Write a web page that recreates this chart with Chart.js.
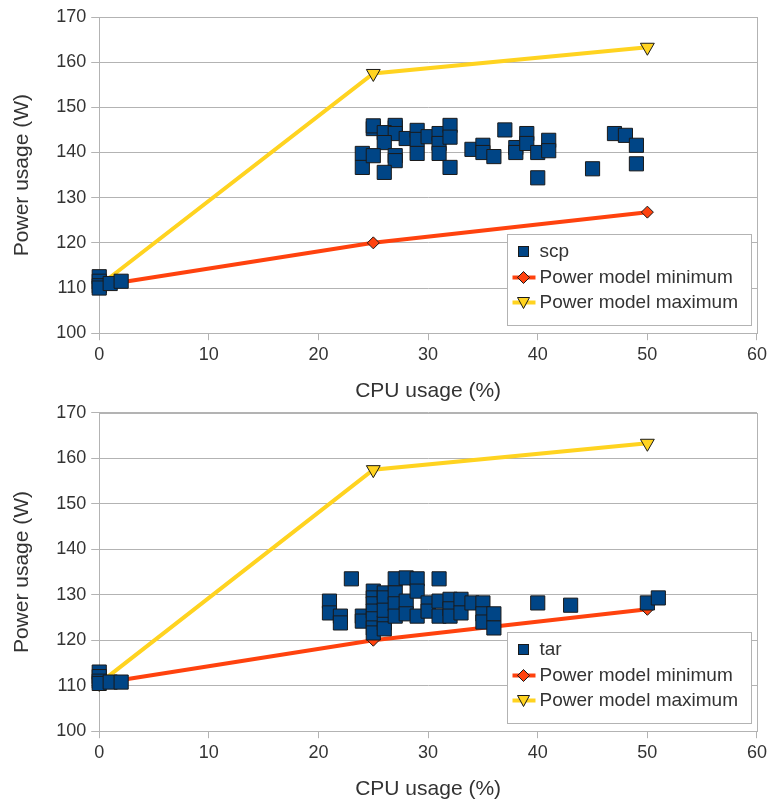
<!DOCTYPE html>
<html>
<head>
<meta charset="utf-8">
<script src="https://cdn.jsdelivr.net/npm/chart.js@4.4.1/dist/chart.umd.min.js"></script>
<style>
  body { margin: 0; background: #fff; }
  canvas { position: absolute; left: 0; }
</style>
</head>
<body>
<canvas id="topChart" width="771" height="404" style="top:0"></canvas>
<canvas id="bottomChart" width="771" height="405" style="top:397px"></canvas>
<script>
/* Measured series: CPU usage (%) vs power usage (W) */
const scpCpu   = [0, 0, 0, 0, 1, 2,
  25, 25, 27, 27, 26, 27, 26, 28, 29, 29, 30, 31, 31, 32, 32, 24, 24, 25, 27, 27, 26, 29, 31, 32,
  34, 35, 35, 36, 37, 38, 38, 39, 39, 40, 41, 41, 40, 45, 47, 48, 49, 49];
const scpPower = [112.5, 111.5, 110.5, 110, 111, 111.5,
  145.3, 145.9, 145.5, 146, 144.4, 144.2, 142.2, 143.1, 144.9, 142.9, 143.5, 144.2, 142, 146, 143.4, 139.8, 136.7, 139.3, 139.3, 138.2, 135.6, 139.8, 139.8, 136.7,
  140.7, 141.6, 140, 139.1, 145, 141.1, 140, 144.2, 142, 140, 142.7, 140.4, 134.4, 136.4, 144.2, 143.8, 141.6, 137.5];

const tarCpu   = [0, 0, 0, 0, 1, 2,
  23, 21, 21, 22, 22, 24, 24, 25, 25, 25, 25, 25, 25, 25, 26, 26, 26, 26, 26,
  27, 27, 27, 27, 28, 28, 28, 29, 29, 29, 30, 30, 31, 31, 31, 32, 32, 32, 33, 33,
  34, 35, 35, 35, 36, 36, 40, 43, 50, 51];
const tarPower = [113, 112, 111, 110.5, 110.8, 110.8,
  133.5, 128.6, 126, 125.3, 123.8, 125.3, 124.2, 130.8, 129.3, 128, 126.4, 124.7, 122.7, 121.6, 130.4, 129.3, 123.8, 122.5, 126.6,
  133.5, 130.4, 128, 125.3, 133.7, 128.6, 125.8, 133.5, 130.8, 125.3, 128.2, 126.4, 133.5, 128.6, 125.3, 129, 126.9, 125.3, 129, 126,
  128.2, 128.2, 125.8, 124, 125.8, 122.7, 128.2, 127.7, 128.2, 129.3];

/* Power model lines */
const modelCpu = [0, 25, 50];
const modelMin = [110.5, 120, 126.8];
const modelMax = [110.5, 157.5, 163.3];

const legendLabels = ['Power model minimum', 'Power model maximum'];

const BLUE = '#004586', RED = '#ff420e', YELLOW = '#ffd320', EDGE = '#1a1a1a';
const GRID = '#b3b3b3', TEXT = '#333333';
const FONT = '"Liberation Sans", Arial, sans-serif';

function toPoints(xs, ys) {
  return xs.map((x, i) => ({ x: x, y: ys[i] }));
}

/* Grey frame round the plot area, drawn under the data */
const framePlugin = {
  id: 'frame',
  beforeDatasetsDraw(chart) {
    const a = chart.chartArea, ctx = chart.ctx;
    ctx.save();
    ctx.strokeStyle = GRID;
    ctx.lineWidth = 1;
    ctx.strokeRect(Math.round(a.left) + 0.5, Math.round(a.top) + 0.5,
      Math.round(a.right - a.left), Math.round(a.bottom - a.top));
    ctx.restore();
  }
};

/* Boxed legend in the lower right corner of the plot */
const boxLegendPlugin = {
  id: 'boxLegend',
  afterDraw(chart, args, opts) {
    const a = chart.chartArea, ctx = chart.ctx;
    const w = 244, h = 91;
    const left = Math.round(a.right - 6 - w) + 0.5;
    const top = Math.round(a.bottom - 8 - h) + 0.5;
    ctx.save();
    ctx.fillStyle = '#fff';
    ctx.strokeStyle = GRID;
    ctx.lineWidth = 1;
    ctx.fillRect(left, top, w, h);
    ctx.strokeRect(left, top, w, h);

    ctx.font = '19px ' + FONT;
    ctx.fillStyle = TEXT;
    ctx.textBaseline = 'middle';
    const rows = [top + 17, top + 43, top + 68];
    const mx = left + 16;

    // scatter entry
    ctx.fillStyle = BLUE;
    ctx.strokeStyle = EDGE;
    ctx.fillRect(mx - 5, rows[0] - 5, 10, 10);
    ctx.strokeRect(mx - 5, rows[0] - 5, 10, 10);
    ctx.fillStyle = TEXT;
    ctx.fillText(opts.first, left + 32, rows[0]);

    // minimum line
    ctx.strokeStyle = RED;
    ctx.lineWidth = 4;
    ctx.beginPath(); ctx.moveTo(left + 5, rows[1]); ctx.lineTo(left + 28, rows[1]); ctx.stroke();
    ctx.fillStyle = RED; ctx.strokeStyle = EDGE; ctx.lineWidth = 1;
    ctx.beginPath();
    ctx.moveTo(mx, rows[1] - 6); ctx.lineTo(mx + 6, rows[1]); ctx.lineTo(mx, rows[1] + 6); ctx.lineTo(mx - 6, rows[1]);
    ctx.closePath(); ctx.fill(); ctx.stroke();
    ctx.fillStyle = TEXT;
    ctx.fillText(legendLabels[0], left + 32, rows[1]);

    // maximum line
    ctx.strokeStyle = YELLOW;
    ctx.lineWidth = 4;
    ctx.beginPath(); ctx.moveTo(left + 5, rows[2]); ctx.lineTo(left + 28, rows[2]); ctx.stroke();
    ctx.fillStyle = YELLOW; ctx.strokeStyle = EDGE; ctx.lineWidth = 1;
    ctx.beginPath();
    ctx.moveTo(mx - 6, rows[2] - 5); ctx.lineTo(mx + 6, rows[2] - 5); ctx.lineTo(mx, rows[2] + 6);
    ctx.closePath(); ctx.fill(); ctx.stroke();
    ctx.fillStyle = TEXT;
    ctx.fillText(legendLabels[1], left + 32, rows[2]);
    ctx.restore();
  }
};

function makeChart(id, name, xs, ys, padTop) {
  return new Chart(document.getElementById(id), {
    type: 'scatter',
    data: {
      datasets: [
        {
          label: name,
          data: toPoints(xs, ys),
          pointStyle: 'rect',
          pointRadius: 10,
          backgroundColor: BLUE,
          borderColor: EDGE,
          borderWidth: 1,
          clip: false,
          order: 1
        },
        {
          label: legendLabels[0],
          data: toPoints(modelCpu, modelMin),
          showLine: true,
          borderColor: RED,
          borderWidth: 4,
          pointStyle: 'rectRot',
          pointRadius: 6,
          pointBackgroundColor: RED,
          pointBorderColor: EDGE,
          pointBorderWidth: 1,
          clip: false,
          order: 2
        },
        {
          label: legendLabels[1],
          data: toPoints(modelCpu, modelMax),
          showLine: true,
          borderColor: YELLOW,
          borderWidth: 4,
          pointStyle: 'triangle',
          pointRotation: 180,
          pointRadius: 8,
          pointBackgroundColor: YELLOW,
          pointBorderColor: EDGE,
          pointBorderWidth: 1,
          clip: false,
          order: 3
        }
      ]
    },
    options: {
      responsive: false,
      animation: false,
      layout: { padding: { left: 10, right: 13, top: padTop, bottom: 0 } },
      plugins: {
        legend: { display: false },
        tooltip: { enabled: false },
        boxLegend: { first: name }
      },
      scales: {
        x: {
          min: 0, max: 60,
          ticks: { stepSize: 10, color: TEXT, font: { family: FONT, size: 18 }, padding: 4 },
          grid: { drawOnChartArea: false, color: GRID, tickLength: 7 },
          border: { color: GRID },
          title: { display: true, text: 'CPU usage (%)', color: TEXT, font: { family: FONT, size: 21 }, padding: { top: 9, bottom: 0 } }
        },
        y: {
          min: 100, max: 170,
          ticks: { stepSize: 10, color: TEXT, font: { family: FONT, size: 18 }, padding: 5 },
          grid: { color: GRID, tickLength: 8 },
          border: { color: GRID },
          title: { display: true, text: 'Power usage (W)', color: TEXT, font: { family: FONT, size: 21 }, padding: { top: 0, bottom: 16 } }
        }
      }
    },
    plugins: [framePlugin, boxLegendPlugin]
  });
}

makeChart('topChart', 'scp', scpCpu, scpPower, 17);
makeChart('bottomChart', 'tar', tarCpu, tarPower, 12);
</script>
</body>
</html>
